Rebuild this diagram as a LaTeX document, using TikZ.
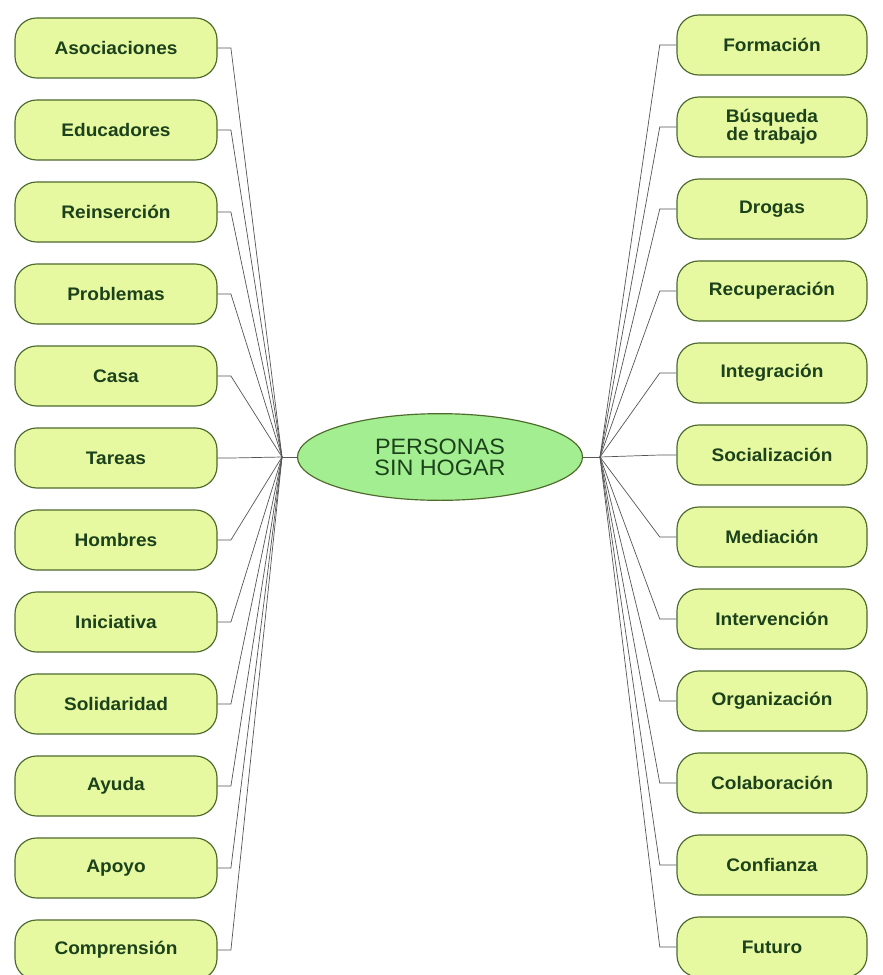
\documentclass[tikz,border=0pt]{standalone}
\usepackage{fontspec}
\setmainfont{Liberation Sans}[FakeStretch=1.05]
\usepackage{tikz}
\usetikzlibrary{positioning, shapes.geometric}
\definecolor{leaf}{HTML}{E6F8A0}
\definecolor{core}{HTML}{A2EE90}
\definecolor{rim}{HTML}{4E6A2C}
\definecolor{ink}{HTML}{1C421C}
\definecolor{wire}{HTML}{555555}
\tikzstyle{topic}=[rectangle, rounded corners=0.65cm, draw=rim, fill=leaf, line width=1pt, text=ink, font=\bfseries\fontsize{15.5}{15}\selectfont, align=center, minimum height=1.8cm, inner sep=1pt]
\tikzstyle{lefttopic}=[topic, minimum width=6.06cm]
\tikzstyle{righttopic}=[topic, minimum width=5.7cm]
\tikzstyle{hub}=[ellipse, draw=rim, fill=core, line width=1pt, text=ink, font=\fontsize{19}{18}\selectfont, align=center, minimum width=8.55cm, minimum height=2.6cm, inner sep=0pt]
\tikzstyle{linkl}=[draw=wire, line width=0.6pt, to path={(\tikztostart.east) -- ++(0.4,0) -- (\tikztotarget)}]
\tikzstyle{linkr}=[draw=wire, line width=0.6pt, to path={(\tikztostart.west) -- ++(-0.5,0) -- (\tikztotarget)}]
\begin{document}
\begin{tikzpicture}[node distance=2.46cm]
				\useasboundingbox (0,0) rectangle (26.46,-29.25);
				\node[hub] (psh) at (13.2,-13.71) {PERSONAS\\SIN HOGAR};
				\coordinate (hl) at (8.46,-13.71);
				\coordinate (hr) at (18.0,-13.71);
				\draw[wire, line width=0.6pt] (hl) -- (psh.west);
				\draw[wire, line width=0.6pt] (hr) -- (psh.east);

				% left side
				\node[lefttopic] (aso) at (3.48,-1.44) {Asociaciones} edge [linkl] (hl);
				\node[lefttopic] (edu) [below of=aso] {Educadores} edge [linkl] (hl);
				\node[lefttopic] (rei) [below of=edu] {Reinserción} edge [linkl] (hl);
				\node[lefttopic] (pro) [below of=rei] {Problemas} edge [linkl] (hl);
				\node[lefttopic] (cas) [below of=pro] {Casa} edge [linkl] (hl);
				\node[lefttopic] (tar) [below of=cas] {Tareas} edge [linkl] (hl);
				\node[lefttopic] (hom) [below of=tar] {Hombres} edge [linkl] (hl);
				\node[lefttopic] (ini) [below of=hom] {Iniciativa} edge [linkl] (hl);
				\node[lefttopic] (sol) [below of=ini] {Solidaridad} edge [linkl] (hl);
				\node[lefttopic] (ayu) [below of=sol] {Ayuda} edge [linkl] (hl);
				\node[lefttopic] (apo) [below of=ayu] {Apoyo} edge [linkl] (hl);
				\node[lefttopic] (com) [below of=apo] {Comprensión} edge [linkl] (hl);

				% right side
				\node[righttopic] (for) at (23.16,-1.35) {Formación} edge [linkr] (hr);
				\node[righttopic] (bus) [below of=for] {Búsqueda\\de trabajo} edge [linkr] (hr);
				\node[righttopic] (dro) [below of=bus] {Drogas} edge [linkr] (hr);
				\node[righttopic] (rec) [below of=dro] {Recuperación} edge [linkr] (hr);
				\node[righttopic] (int) [below of=rec] {Integración} edge [linkr] (hr);
				\node[righttopic] (soc) [below of=int] {Socialización} edge [linkr] (hr);
				\node[righttopic] (med) [below of=soc] {Mediación} edge [linkr] (hr);
				\node[righttopic] (inv) [below of=med] {Intervención} edge [linkr] (hr);
				\node[righttopic] (org) [below of=inv] {Organización} edge [linkr] (hr);
				\node[righttopic] (col) [below of=org] {Colaboración} edge [linkr] (hr);
				\node[righttopic] (con) [below of=col] {Confianza} edge [linkr] (hr);
				\node[righttopic] (fut) [below of=con] {Futuro} edge [linkr] (hr);
			\end{tikzpicture}
\end{document}
